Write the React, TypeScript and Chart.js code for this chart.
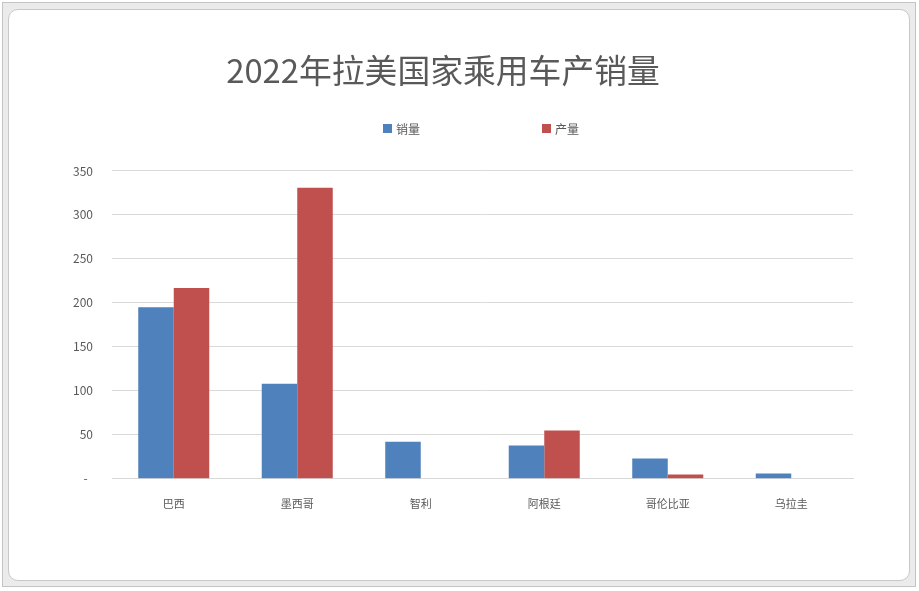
import React, { useEffect, useRef } from "react";
import { Chart, registerables } from "chart.js";

Chart.register(...registerables);

const FONT = '"Noto Sans CJK SC", "Noto Sans", sans-serif';

const categories = ["巴西", "墨西哥", "智利", "阿根廷", "哥伦比亚", "乌拉圭"];
const seriesNames = ["销量", "产量"];
const seriesColors = ["#4F81BD", "#C0504D"];
const salesValues = [195, 108, 42, 38, 23, 6];
const productionValues = [217, 331, 0, 55, 5, 0];
const yTicks = [0, 50, 100, 150, 200, 250, 300, 350];

const App = () => {
  const canvasRef = useRef<HTMLCanvasElement>(null);

  useEffect(() => {
    if (!canvasRef.current) return;
    const ctx = canvasRef.current.getContext("2d") as CanvasRenderingContext2D;
    Chart.defaults.font.family = FONT;

    const chart = new Chart(ctx, {
      type: "bar",
      data: {
        labels: categories,
        datasets: [salesValues, productionValues].map((values, i) => ({
          label: seriesNames[i],
          data: values,
          backgroundColor: seriesColors[i],
          borderWidth: 0,
          categoryPercentage: 0.575,
          barPercentage: 1,
        })),
      },
      options: {
        responsive: false,
        animation: false,
        layout: { padding: { top: 19, left: 33, right: 66, bottom: 63 } },
        plugins: {
          legend: { display: false }, // legend is drawn in html, spaced like excel
          tooltip: { enabled: false },
          title: {
            display: true,
            text: "2022年拉美国家乘用车产销量",
            color: "#595959",
            font: { family: FONT, size: 32.8, weight: "normal", lineHeight: 1.2 },
            padding: { top: 32, bottom: 80.6 },
          },
        },
        scales: {
          x: {
            grid: { display: false, drawTicks: false },
            border: { display: true, color: "#d9d9d9", width: 1 },
            ticks: { color: "#595959", font: { size: 11 }, padding: 18 },
          },
          y: {
            min: yTicks[0],
            max: yTicks[yTicks.length - 1],
            afterBuildTicks: (scale) => {
              scale.ticks = yTicks.map((v) => ({ value: v }));
            },
            afterFit: (scale) => {
              scale.width = 79;
            },
            grid: { color: "#d9d9d9", drawTicks: false },
            border: { display: false },
            ticks: {
              color: "#595959",
              font: { size: 12 },
              padding: 19,
              callback: (value) => (Number(value) === 0 ? "-  " : String(value)),
            },
          },
        },
      },
    });

    return () => {
      chart.destroy();
    };
  }, []);

  return (
    <div style={{ position: "absolute", left: 0, top: 0, width: 919, height: 591, background: "#fff" }}>
      {/* excel-like chart frame */}
      <div
        style={{
          position: "absolute",
          left: 2,
          top: 2,
          width: 912,
          height: 583,
          border: "1px solid #c4c4c4",
          background: "#ebebeb",
        }}
      />
      <div
        style={{
          position: "absolute",
          left: 8,
          top: 9,
          width: 900,
          height: 570,
          border: "1px solid #c8c8c8",
          borderRadius: 10,
          background: "#fff",
        }}
      />
      <canvas
        ref={canvasRef}
        width={919}
        height={591}
        style={{ position: "absolute", left: 0, top: 0 }}
      />
      {seriesNames.map((name, i) => (
        <div
          key={name}
          style={{
            position: "absolute",
            left: i === 0 ? 383 : 542,
            top: 120,
            height: 17,
            display: "flex",
            alignItems: "center",
            fontFamily: FONT,
            fontSize: 12,
            color: "#595959",
          }}
        >
          <span style={{ width: 9, height: 9, background: seriesColors[i], marginRight: 4 }} />
          {name}
        </div>
      ))}
    </div>
  );
};

export default App;
